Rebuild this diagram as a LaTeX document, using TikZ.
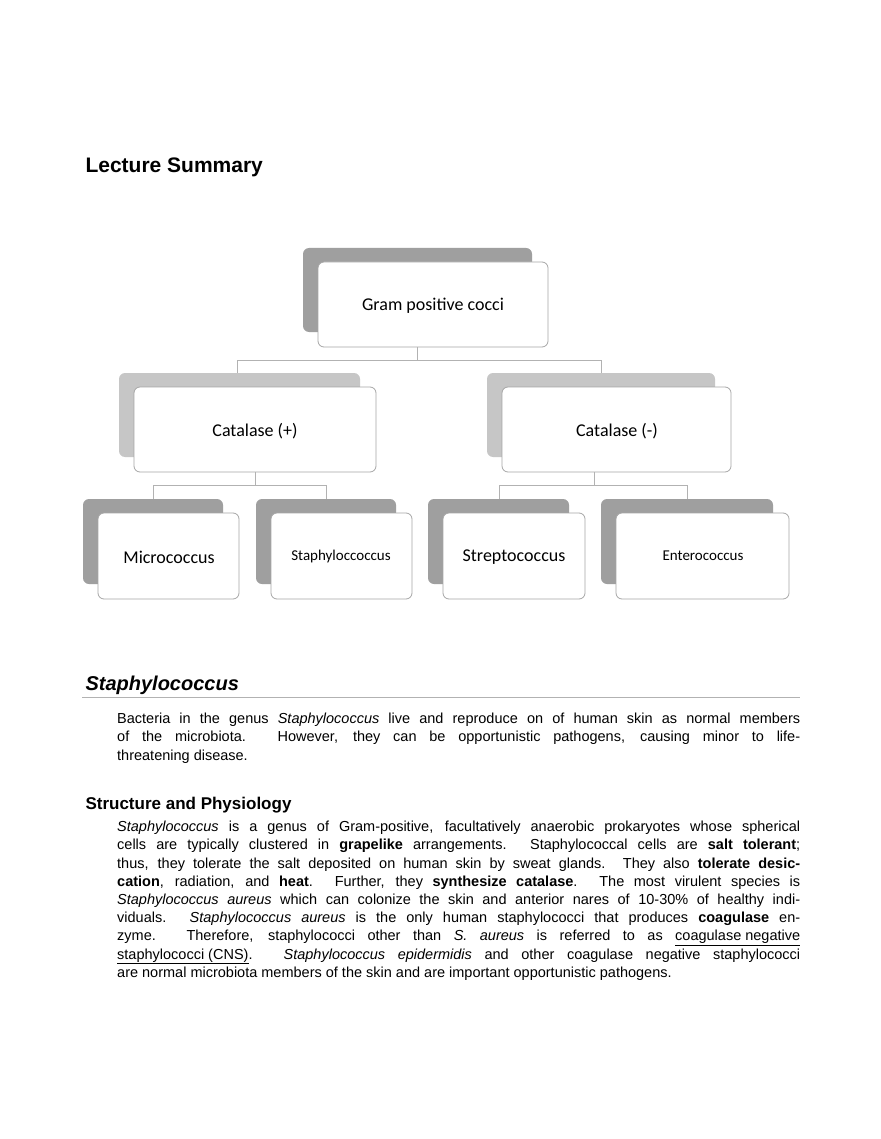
\documentclass[tikz,border=0pt]{standalone}
\usepackage{fontspec}
\setmainfont{Liberation Sans}
\newfontfamily\carl{Carlito}
\begin{document}
\begin{tikzpicture}[x=1pt,y=-1pt,
 back/.style={draw=none,rounded corners=6pt},
 front/.style={draw=gray!70,fill=white,rounded corners=6pt,line width=0.8pt},
 lbl/.style={font=\carl\fontsize{18}{20}\selectfont},
 conn/.style={draw=gray!60,line width=0.8pt}]
\useasboundingbox[fill=white] (0,0) rectangle (880,1139);
\node[anchor=base west,font=\bfseries\fontsize{21}{24}\selectfont] (ls) at (82,173) {Lecture Summary};
% boxes
\def\bx#1#2#3#4#5#6#7{%
 \fill[#6,rounded corners=6pt] (#2,#3) rectangle (#4-16,#5-15);
 \draw[front] (#2+15,#3+14) rectangle (#4,#5);
 \node[lbl,#7] (#1) at ({(#2+15+#4)/2},{(#3+14+#5)/2}) {};}
\bx{g}{303}{248}{548}{347}{gray!75}{}
\node[lbl] (gt) at (433,306) {Gram positive cocci};
\bx{cp}{119}{373}{376}{472}{gray!45}{}
\node[lbl] (cpt) at (255,431) {Catalase (+)};
\bx{cm}{487}{373}{731}{472}{gray!45}{}
\node[lbl] (cmt) at (617,431) {Catalase (-)};
\bx{m}{83}{499}{239}{599}{gray!75}{}
\node[lbl] (mt) at (169,557) {Micrococcus};
\bx{s}{256}{499}{412}{599}{gray!75}{}
\node[lbl,font=\carl\fontsize{15}{17}\selectfont] (st) at (341,556) {Staphyloccoccus};
\bx{sp}{428}{499}{585}{599}{gray!75}{}
\node[lbl] (spt) at (514,557) {Streptococcus};
\bx{e}{601}{499}{789}{599}{gray!75}{}
\node[lbl,font=\carl\fontsize{15}{17}\selectfont] (et) at (703,556) {Enterococcus};
% connectors
\coordinate (j1) at (417,360);
\draw[conn] (417,347) -- (j1);
\draw[conn] (237,373) -- (237,360) -- (601,360) -- (601,373);
\draw[conn] (255,472) -- (255,485);
\draw[conn] (153,499) -- (153,485) -- (326,485) -- (326,499);
\draw[conn] (594,472) -- (594,485);
\draw[conn] (499,499) -- (499,485) -- (687,485) -- (687,499);
% text
\node[anchor=base west,font=\bfseries\itshape\fontsize{20}{24}\selectfont] (sh) at (82,690) {Staphylococcus};
\draw[gray!60,line width=0.8pt] (82,697) -- (800,697);
\node[anchor=north west,inner sep=0pt,text width=683pt,align=justify,font=\fontsize{14.5}{18.2}\selectfont] (p1) at (117,713)
{Bacteria in the genus \textit{Staphylococcus} live and reproduce on of human skin as normal members\linebreak
of the microbiota. However, they can be opportunistic pathogens, causing minor to life-\linebreak
threatening disease.};
\node[anchor=base west,font=\bfseries\fontsize{17}{20}\selectfont] (sp2) at (82,809) {Structure and Physiology};
\node[anchor=north west,inner sep=0pt,text width=683pt,align=justify,font=\fontsize{14.5}{18.2}\selectfont] (p2) at (117,821)
{\textit{Staphylococcus} is a genus of Gram-positive, facultatively anaerobic prokaryotes whose spherical\linebreak
cells are typically clustered in \textbf{grapelike} arrangements. Staphylococcal cells are \textbf{salt tolerant};\linebreak
thus, they tolerate the salt deposited on human skin by sweat glands. They also \textbf{tolerate desic-}\linebreak
\textbf{cation}, radiation, and \textbf{heat}. Further, they \textbf{synthesize catalase}. The most virulent species is\linebreak
\textit{Staphylococcus aureus} which can colonize the skin and anterior nares of 10-30\% of healthy indi-\linebreak
viduals. \textit{Staphylococcus aureus} is the only human staphylococci that produces \textbf{coagulase} en-\linebreak
zyme. Therefore, staphylococci other than \textit{S. aureus} is referred to as \underline{coagulase negative}\linebreak
\underline{staphylococci (CNS)}. \textit{Staphylococcus epidermidis} and other coagulase negative staphylococci\linebreak
are normal microbiota members of the skin and are important opportunistic pathogens.};
\end{tikzpicture}
\end{document}
